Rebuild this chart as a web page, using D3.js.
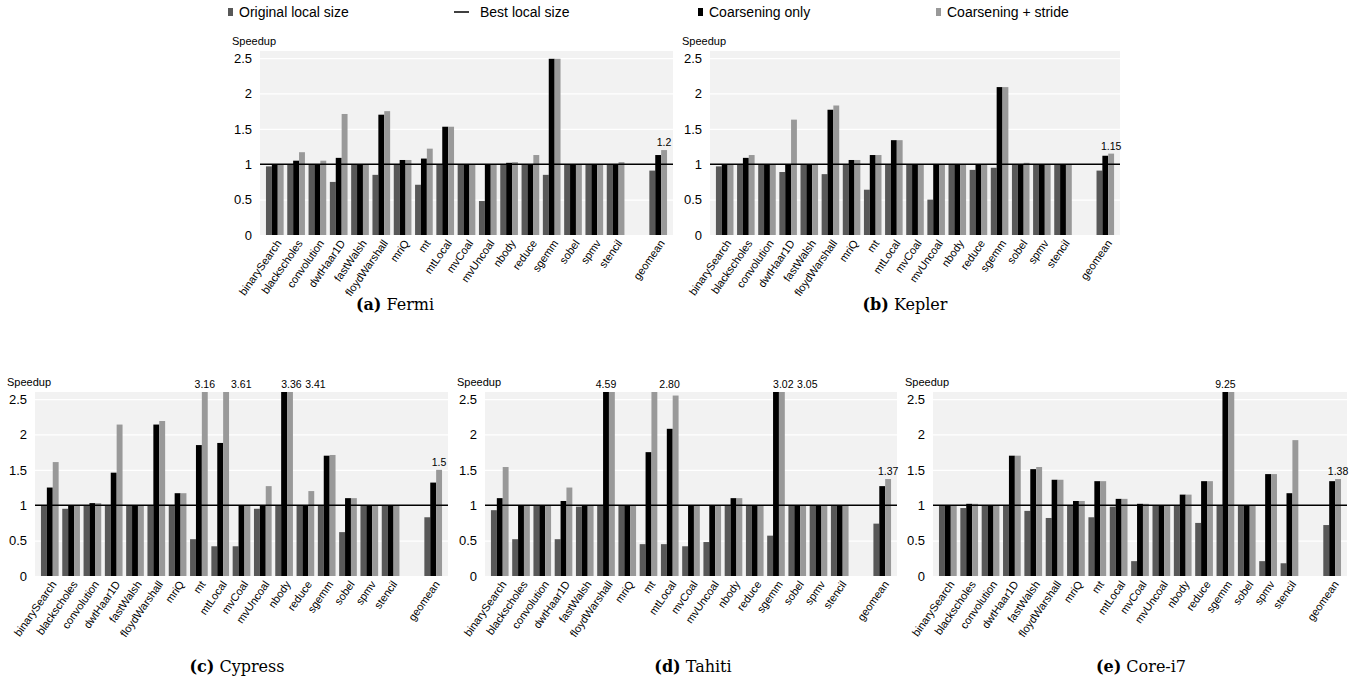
<!DOCTYPE html>
<html>
<head>
<meta charset="utf-8">
<script src="https://cdn.jsdelivr.net/npm/d3@7"></script>
<style>
  body { margin: 0; background: #fff; }
  svg { display: block; font-family: "Liberation Sans", Arial, sans-serif; }
  .cap { font-family: "DejaVu Serif", "Liberation Serif", serif; font-size: 16px; }
</style>
</head>
<body>
<svg width="1360" height="687"></svg>
<script>

//// SPEEDUP BAR CHARTS, FIVE DEVICES ////

var benchmarks = ["binarySearch", "blackscholes", "convolution", "dwtHaar1D", "fastWalsh",
    "floydWarshall", "mriQ", "mt", "mtLocal", "mvCoal", "mvUncoal", "nbody", "reduce",
    "sgemm", "sobel", "spmv", "stencil", "geomean"];
var yTicks = [0, 0.5, 1, 1.5, 2, 2.5];
var bestLocal = 1;
var seriesNames = ["Original local size", "Best local size", "Coarsening only", "Coarsening + stride"];

// Fermi
var fermiOrig   = [0.97, 1, 1, 0.75, 1, 0.85, 1, 0.71, 1, 1, 0.48, 1, 1, 0.85, 1, 1, 1, 0.91];
var fermiCoars  = [1, 1.05, 1, 1.09, 1, 1.70, 1.06, 1.08, 1.53, 1, 1, 1.02, 1, 2.49, 1, 1, 1, 1.13];
var fermiStride = [1, 1.17, 1.05, 1.71, 1, 1.75, 1.06, 1.22, 1.53, 1, 1, 1.03, 1.13, 2.49, 1, 1, 1.03, 1.2];
// Kepler
var keplerOrig   = [0.97, 1, 1, 0.89, 1, 0.86, 1, 0.64, 1, 1, 0.5, 1, 0.92, 0.95, 1, 1, 1, 0.91];
var keplerCoars  = [1, 1.09, 1, 1, 1, 1.77, 1.06, 1.13, 1.34, 1, 1, 1, 1, 2.09, 1, 1, 1, 1.12];
var keplerStride = [1, 1.13, 1, 1.63, 1, 1.83, 1.06, 1.13, 1.34, 1, 1, 1, 1, 2.09, 1.02, 1, 1, 1.15];
// Cypress
var cypressOrig   = [1, 0.95, 1, 1, 1, 1, 1, 0.52, 0.42, 0.42, 0.95, 1, 1, 1, 0.62, 1, 1, 0.83];
var cypressCoars  = [1.25, 1, 1.03, 1.46, 1, 2.14, 1.17, 1.85, 1.88, 1, 1, 3.36, 1, 1.70, 1.10, 1, 1, 1.32];
var cypressStride = [1.61, 1, 1.03, 2.14, 1, 2.19, 1.17, 3.16, 3.61, 1, 1.27, 3.41, 1.2, 1.71, 1.10, 1, 1, 1.5];
// Tahiti
var tahitiOrig   = [0.93, 0.52, 1, 0.52, 0.98, 1, 1, 0.45, 0.45, 0.42, 0.48, 1, 1, 0.57, 1, 1, 1, 0.74];
var tahitiCoars  = [1.10, 1, 1, 1.06, 1, 4.59, 1, 1.75, 2.08, 1, 1, 1.10, 1, 3.02, 1, 1, 1, 1.27];
var tahitiStride = [1.54, 1, 1, 1.25, 1, 4.59, 1, 2.80, 2.55, 1, 1, 1.10, 1, 3.05, 1, 1, 1, 1.37];
// Core-i7
var corei7Orig   = [1, 0.96, 1, 1, 0.92, 0.82, 1, 0.83, 0.98, 0.21, 1, 1, 0.75, 1, 1, 0.21, 0.18, 0.72];
var corei7Coars  = [1, 1.02, 1, 1.70, 1.51, 1.36, 1.06, 1.34, 1.09, 1.02, 1, 1.15, 1.34, 9.25, 1, 1.44, 1.17, 1.34];
var corei7Stride = [1, 1.02, 1, 1.70, 1.54, 1.36, 1.06, 1.34, 1.09, 1.02, 1, 1.15, 1.34, 9.25, 1, 1.44, 1.92, 1.37];

// value labels: [benchmark, series (0 orig, 1 coars, 2 stride, "group"), text, "right" = set beside bar]
var fermiLabels   = [["geomean", 2, "1.2"]];
var keplerLabels  = [["geomean", 2, "1.15"]];
var cypressLabels = [["mt", 2, "3.16"], ["mtLocal", 2, "3.61", "right"], ["nbody", 1, "3.36"], ["nbody", 2, "3.41"], ["geomean", 2, "1.5"]];
var tahitiLabels  = [["floydWarshall", "group", "4.59"], ["mt", 2, "2.80", "right"], ["sgemm", 1, "3.02"], ["sgemm", 2, "3.05"], ["geomean", 2, "1.37"]];
var corei7Labels  = [["sgemm", "group", "9.25"], ["geomean", 2, "1.38"]];

var colors = ["#585858", "#000000", "#999999"];
var svg = d3.select("svg");

// legend across the top
var legendX = [228, 456, 698, 936];
seriesNames.forEach(function (name, i) {
    var lg = svg.append("g").attr("transform", "translate(" + legendX[i] + ",12)");
    if (i == 1) {
        lg.append("line").attr("x1", -2).attr("x2", 13).attr("y1", 0).attr("y2", 0)
            .attr("stroke", "#000").attr("stroke-width", 1.5);
    } else {
        var c = i == 0 ? colors[0] : (i == 2 ? colors[1] : colors[2]);
        lg.append("rect").attr("x", 0).attr("y", -4).attr("width", 5).attr("height", 8).attr("fill", c);
    }
    lg.append("text").attr("x", i == 1 ? 24 : 11).attr("y", 5).attr("font-size", 14).text(name);
});

function drawPanel(p) {
    var width = p.right - p.left, height = p.bottom - p.top;
    var g = svg.append("g").attr("transform", "translate(" + p.left + "," + p.top + ")");

    var domain = benchmarks.slice(0, 17).concat(["", "geomean"]);
    var x = d3.scaleBand().domain(domain).range([0, width]).paddingInner(0.17).paddingOuter(0.28);
    var xs = d3.scaleBand().domain([0, 1, 2]).range([0, x.bandwidth()]);
    var yMax = 2.6;
    var y = d3.scaleLinear().domain([0, yMax]).range([height, 0]);

    // background and white grid
    g.append("rect").attr("width", width).attr("height", height).attr("fill", "#f2f2f2");
    g.append("g").call(d3.axisLeft(y).tickValues(yTicks.slice(1)).tickSize(-width).tickFormat(""))
        .call(function (s) { s.select(".domain").remove(); })
        .selectAll("line").attr("stroke", "#fff").attr("stroke-width", 1.2);

    // y tick labels
    g.append("g").call(d3.axisLeft(y).tickValues(yTicks).tickSize(0).tickPadding(8).tickFormat(d3.format("")))
        .call(function (s) { s.select(".domain").remove(); })
        .selectAll("text").attr("font-size", 13).attr("font-family", null).attr("fill", "#000");

    g.append("text").attr("x", -28).attr("y", -6).attr("font-size", 11).text("Speedup");

    // bars
    var rows = benchmarks.map(function (b, i) {
        return { name: b, vals: [p.orig[i], p.coars[i], p.stride[i]] };
    });
    var grp = g.selectAll(".grp").data(rows).enter().append("g")
        .attr("transform", function (d) { return "translate(" + x(d.name) + ",0)"; });
    grp.selectAll("rect").data(function (d) { return d.vals; }).enter().append("rect")
        .attr("x", function (d, i) { return xs(i); })
        .attr("width", xs.bandwidth())
        .attr("y", function (d) { return y(Math.min(d, yMax)); })
        .attr("height", function (d) { return height - y(Math.min(d, yMax)); })
        .attr("fill", function (d, i) { return colors[i]; });

    // best local size line
    g.append("line").attr("x1", 0).attr("x2", width).attr("y1", y(bestLocal)).attr("y2", y(bestLocal))
        .attr("stroke", "#000").attr("stroke-width", 1.3);

    // value labels
    p.labels.forEach(function (l) {
        var i = benchmarks.indexOf(l[0]);
        var v, cx, anchor = "middle";
        if (l[1] == "group") {
            v = Math.max(p.coars[i], p.stride[i]);
            cx = x(l[0]) + x.bandwidth() / 2;
        } else {
            v = [p.orig[i], p.coars[i], p.stride[i]][l[1]];
            cx = x(l[0]) + xs(l[1]) + xs.bandwidth() / 2;
            var pair = p.labels.filter(function (o) { return o[0] == l[0]; }).length > 1;
            if (pair) {
                // two labels side by side, starting at the coarsening bar
                anchor = "start";
                cx = x(l[0]) + xs(1) + (l[1] == 1 ? 0 : 24);
            } else if (l[3] == "right") {
                anchor = "start";
                cx = x(l[0]) + xs(l[1]) + xs.bandwidth() + 2;
            }
        }
        g.append("text").attr("x", cx).attr("y", y(Math.min(v, yMax)) - 4)
            .attr("text-anchor", anchor).attr("font-size", 10.5).text(l[2]);
    });

    // rotated benchmark names
    g.append("g").attr("transform", "translate(0," + height + ")")
        .call(d3.axisBottom(x).tickValues(benchmarks).tickSize(0).tickPadding(0))
        .call(function (s) { s.select(".domain").remove(); })
        .selectAll("text")
        .attr("font-size", 11).attr("font-family", null).attr("fill", "#000")
        .attr("text-anchor", "end")
        .attr("transform", "translate(4,6) rotate(-55)")
        .attr("dy", "0.35em");

    // caption
    var cap = svg.append("text").attr("class", "cap").attr("x", p.capX).attr("y", p.capY).attr("text-anchor", "middle");
    cap.append("tspan").attr("font-weight", "bold").text("(" + p.tag + ")");
    cap.append("tspan").text(" " + p.name);
}

drawPanel({ name: "Fermi", tag: "a", left: 260, right: 673, top: 51, bottom: 235, capX: 395, capY: 310,
    orig: fermiOrig, coars: fermiCoars, stride: fermiStride, labels: fermiLabels });
drawPanel({ name: "Kepler", tag: "b", left: 710, right: 1120, top: 51, bottom: 235, capX: 905, capY: 310,
    orig: keplerOrig, coars: keplerCoars, stride: keplerStride, labels: keplerLabels });
drawPanel({ name: "Cypress", tag: "c", left: 35, right: 448, top: 392, bottom: 576, capX: 237, capY: 672,
    orig: cypressOrig, coars: cypressCoars, stride: cypressStride, labels: cypressLabels });
drawPanel({ name: "Tahiti", tag: "d", left: 485, right: 897, top: 392, bottom: 576, capX: 693, capY: 672,
    orig: tahitiOrig, coars: tahitiCoars, stride: tahitiStride, labels: tahitiLabels });
drawPanel({ name: "Core-i7", tag: "e", left: 933, right: 1347, top: 392, bottom: 576, capX: 1141, capY: 672,
    orig: corei7Orig, coars: corei7Coars, stride: corei7Stride, labels: corei7Labels });

</script>
</body>
</html>
